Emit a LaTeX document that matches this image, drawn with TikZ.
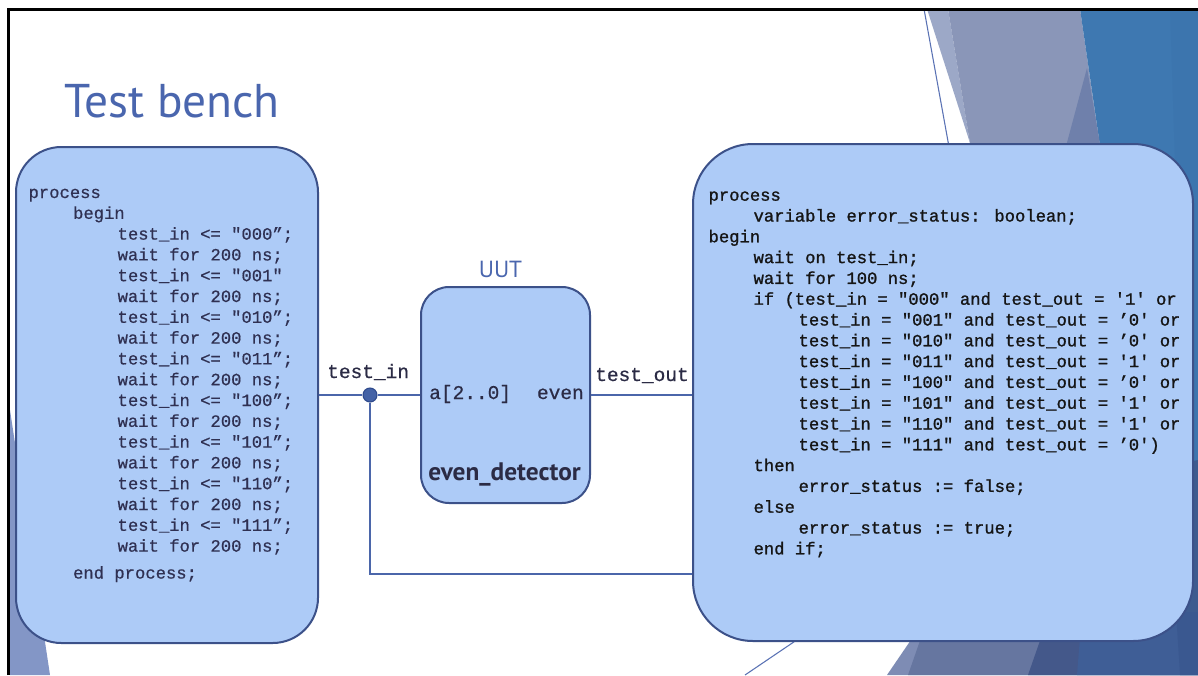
\documentclass[tikz,border=0pt]{standalone}
\usepackage{fontspec}
\setmainfont{PT Sans}
\setmonofont{Liberation Mono}
\newfontfamily\monolight{Liberation Mono}[FakeBold=0.6]
\newfontfamily\monoheavy{Liberation Mono}[FakeBold=1.2]

\definecolor{boxfill}{HTML}{ADCBF7}
\definecolor{boxline}{HTML}{3C5189}
\definecolor{wirecol}{HTML}{4B66AA}
\definecolor{dotfill}{HTML}{4462A6}
\definecolor{dotline}{HTML}{2F4A8C}
\definecolor{titlecol}{HTML}{4A66AE}
\definecolor{codeleft}{HTML}{2F3052}
\definecolor{coderight}{HTML}{151515}
\definecolor{portcol}{HTML}{2B2B45}
% slide background facets
\definecolor{facetA}{HTML}{9CA8C7}
\definecolor{facetB}{HTML}{8A96B8}
\definecolor{facetC}{HTML}{3E78B1}
\definecolor{facetD}{HTML}{6F80AB}
\definecolor{facetE}{HTML}{3C75AE}
\definecolor{facetF}{HTML}{3D5B8F}
\definecolor{facetG}{HTML}{7E8CB4}
\definecolor{facetH}{HTML}{6676A0}
\definecolor{facetI}{HTML}{44588A}
\definecolor{facetJ}{HTML}{3F5E96}
\definecolor{facetK}{HTML}{3A5890}
\definecolor{facetL}{HTML}{8396C6}
\definecolor{facetline}{HTML}{5A72B4}

\newcommand\codesizeL{\monolight\fontsize{12.9pt}{15.6pt}\selectfont}
\newcommand\codesizeR{\monoheavy\fontsize{12.9pt}{15.6pt}\selectfont}
\newcommand\portsize{\monolight\fontsize{14.6pt}{17pt}\selectfont}

\tikzset{
  codebox/.style={draw=boxline, line width=1.5pt, fill=boxfill, inner sep=0pt},
  wire/.style={draw=wirecol, line width=1.5pt},
  codetext/.style={anchor=base west, inner sep=0pt},
  port/.style={inner sep=0pt, font=\portsize, text=portcol},
}

\begin{document}
\begin{tikzpicture}[x=0.75pt,y=-0.75pt]
\useasboundingbox (0,0) rectangle (1198,675);
\fill[white] (0,0) rectangle (1198,675);

% background facets, kept inside the slide frame
\begin{scope}
  \clip (8,9) rectangle (1198,675);
  \fill[facetA] (927,9) -- (948,9) -- (970,143) -- cycle;
  \fill[facetB] (948,9) -- (1080,9) -- (1105,180) -- (976,180) -- cycle;
  \fill[facetC] (1080,9) -- (1198,9) -- (1198,480) -- (1150,480) -- (1105,180) -- cycle;
  \fill[facetE] (1170,9) -- (1198,9) -- (1198,470) -- (1185,470) -- cycle;
  \fill[facetD] (1065,150) -- (1087,68) -- (1101,150) -- cycle;
  \draw[facetline, line width=0.8pt] (924,9) -- (955,180);
  \fill[facetF] (1150,470) -- (1198,460) -- (1198,675) -- (1150,675) -- cycle;
  \fill[facetG] (887,675) -- (930,612) -- (1198,612) -- (1198,675) -- cycle;
  \fill[facetH] (908,675) -- (930,612) -- (1198,612) -- (1198,675) -- cycle;
  \fill[facetI] (1028,675) -- (1050,612) -- (1198,612) -- (1198,675) -- cycle;
  \fill[facetJ] (1077,675) -- (1082,612) -- (1198,612) -- (1198,675) -- cycle;
  \fill[facetK] (1180,675) -- (1176,612) -- (1198,612) -- (1198,675) -- cycle;
  \draw[facetline, line width=0.8pt] (745,675) -- (810,631);
  \fill[facetL] (10,410) -- (50,675) -- (10,675) -- cycle;
\end{scope}

% slide frame
\draw[black, line width=2.2pt] (8.3,675) -- (8.3,9.7) -- (1198,9.7);

% title
\node[anchor=base west, inner sep=0pt, text=titlecol, font=\fontsize{35.5pt}{42pt}\selectfont] (title) at (64,117) {Test bench};

% stimulus process
\node[codebox, rounded corners=34pt, minimum width=226.5pt, minimum height=372pt] (leftbox) at (167,395) {};
\node[codetext, text=codeleft] (leftcode) at (28.3,198) {\parbox[t]{220pt}{\codesizeL
process\\
\hspace*{33.4pt}begin\\
\hspace*{66.8pt}test\_in <= "000”;\\
\hspace*{66.8pt}wait for 200 ns;\\
\hspace*{66.8pt}test\_in <= "001"\\
\hspace*{66.8pt}wait for 200 ns;\\
\hspace*{66.8pt}test\_in <= "010”;\\
\hspace*{66.8pt}wait for 200 ns;\\
\hspace*{66.8pt}test\_in <= "011”;\\
\hspace*{66.8pt}wait for 200 ns;\\
\hspace*{66.8pt}test\_in <= "100”;\\
\hspace*{66.8pt}wait for 200 ns;\\
\hspace*{66.8pt}test\_in <= "101”;\\
\hspace*{66.8pt}wait for 200 ns;\\
\hspace*{66.8pt}test\_in <= "110”;\\
\hspace*{66.8pt}wait for 200 ns;\\
\hspace*{66.8pt}test\_in <= "111”;\\
\hspace*{66.8pt}wait for 200 ns;\\[4.6pt]
\hspace*{33.4pt}end process;}};

% checking process
\node[codebox, rounded corners=45pt, minimum width=375pt, minimum height=372.75pt] (rightbox) at (943,392.5) {};
\node[codetext, text=coderight] (rightcode) at (708.3,200.7) {\parbox[t]{370pt}{\codesizeR
process\\
\hspace*{33.75pt}variable error\_status: boolean;\\
begin\\
\hspace*{33.75pt}wait on test\_in;\\
\hspace*{33.75pt}wait for 100 ns;\\
\hspace*{33.75pt}if (test\_in = "000" and test\_out = '1' or\\
\hspace*{67.5pt}test\_in = "001" and test\_out = ’0' or\\
\hspace*{67.5pt}test\_in = "010" and test\_out = ’0' or\\
\hspace*{67.5pt}test\_in = "011" and test\_out = '1' or\\
\hspace*{67.5pt}test\_in = "100" and test\_out = ’0' or\\
\hspace*{67.5pt}test\_in = "101" and test\_out = '1' or\\
\hspace*{67.5pt}test\_in = "110" and test\_out = '1' or\\
\hspace*{67.5pt}test\_in = "111" and test\_out = ’0')\\
\hspace*{33.75pt}then\\
\hspace*{67.5pt}error\_status := false;\\
\hspace*{33.75pt}else\\
\hspace*{67.5pt}error\_status := true;\\
\hspace*{33.75pt}end if;}};

% unit under test
\node[codebox, rounded corners=21pt, minimum width=126.75pt, minimum height=162pt] (uut) at (505.5,395) {};
\node[anchor=base, inner sep=0pt, text=titlecol, font=\fontsize{17.5pt}{20pt}\selectfont] (uutlabel) at (500.5,277) {UUT};
\node[anchor=base, inner sep=0pt, text=portcol, font=\bfseries\fontsize{19pt}{22pt}\selectfont] (uutname) at (504.5,480) {even\_detector};
\node[port, anchor=base west] (portin) at (429,399) {a[2..0]};
\node[port, anchor=base east] (portout) at (584,399) {even};

% signals
\node[circle, fill=dotfill, draw=dotline, line width=0.8pt, minimum size=10.5pt, inner sep=0pt] (dot) at (370,395) {};
\coordinate (ret) at (370,574);
\draw[wire] (leftbox.east) -- (dot);
\draw[wire] (dot) -- (uut.west);
\draw[wire] (uut.east) -- (uut.east -| rightbox.west);
\draw[wire] (dot) -- (ret) -- (ret -| rightbox.west);
\node[port, anchor=base west] (sigin) at (327,378) {test\_in};
\node[port, anchor=base west] (sigout) at (595,381) {test\_out};
\end{tikzpicture}
\end{document}
